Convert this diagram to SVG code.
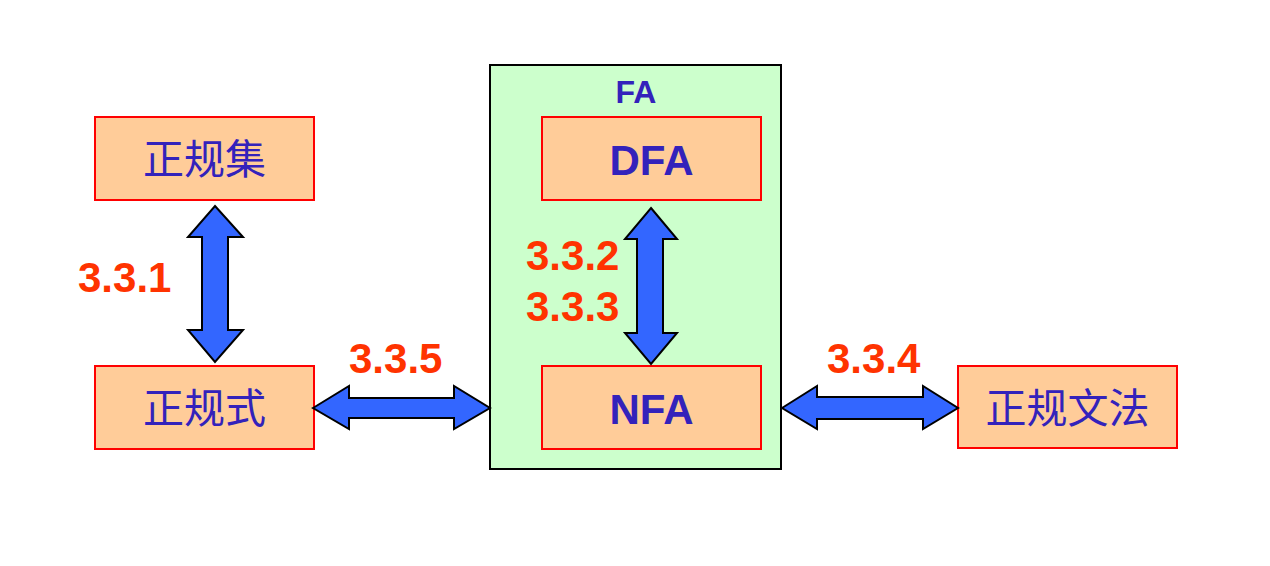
<svg xmlns="http://www.w3.org/2000/svg" width="1270" height="566" viewBox="0 0 1270 566">
<style>
.node{fill:#FFCC99;stroke:#FF0000;stroke-width:2}
.fa{fill:#CCFFCC;stroke:#000000;stroke-width:2}
.cn{font-family:"Liberation Serif","Noto Sans CJK SC",serif;font-size:41px;fill:#3322BB;text-anchor:middle}
.en{font-family:"Liberation Sans",Arial,sans-serif;font-weight:bold;fill:#3322BB;text-anchor:middle}
.lbl{font-family:"Liberation Sans",Arial,sans-serif;font-weight:bold;font-size:42px;fill:#FF3300}
.arr{fill:#3366FF;stroke:#000000;stroke-width:2;stroke-linejoin:miter}
</style>
<rect width="1270" height="566" fill="#FFFFFF"/>
<g id="fa-group">
<rect class="fa" x="490" y="65" width="291" height="404"/>
<text class="en" x="636" y="103" font-size="32">FA</text>
</g>
<g id="zhengguiji">
<rect class="node" x="95" y="117" width="219" height="83"/>
<text class="cn" x="204.5" y="174">正规集</text>
</g>
<g id="zhengguishi">
<rect class="node" x="95" y="366" width="219" height="83"/>
<text class="cn" x="204.5" y="423">正规式</text>
</g>
<g id="dfa">
<rect class="node" x="542" y="117" width="219" height="83"/>
<text class="en" x="651.5" y="175" font-size="42">DFA</text>
</g>
<g id="nfa">
<rect class="node" x="542" y="366" width="219" height="83"/>
<text class="en" x="651.5" y="424" font-size="42">NFA</text>
</g>
<g id="zhengguiwenfa">
<rect class="node" x="958" y="366" width="219" height="82"/>
<text class="cn" x="1067.5" y="423">正规文法</text>
</g>
<g id="connectors">
<polygon class="arr" points="215,206 243,237 228,237 228,330 243,330 215,362 188,330 202,330 202,237 188,237"/>
<polygon class="arr" points="651,208 677,239 663,239 663,333 677,333 651,364 625,333 637,333 637,239 625,239"/>
<polygon class="arr" points="313,408 349,386 349,398 454,398 454,386 490,408 454,429 454,418 349,418 349,429"/>
<polygon class="arr" points="782,408 817,386 817,397 923,397 923,386 958,408 923,429 923,419 817,419 817,429"/>
<text class="lbl" x="78" y="292">3.3.1</text>
<text class="lbl" x="349" y="373">3.3.5</text>
<text class="lbl" x="526" y="270">3.3.2</text>
<text class="lbl" x="526" y="321">3.3.3</text>
<text class="lbl" x="827" y="373">3.3.4</text>
</g>
</svg>
